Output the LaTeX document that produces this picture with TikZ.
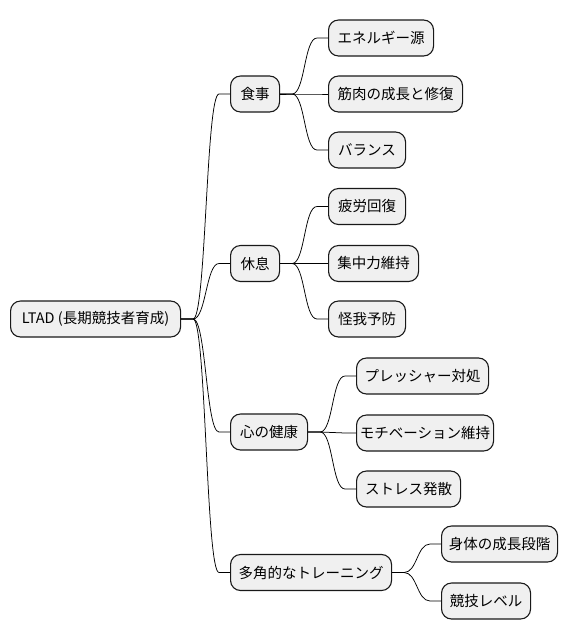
\documentclass[tikz,border=0pt]{standalone}
\usepackage{fontspec}
\setmainfont{Noto Sans CJK JP}
\usetikzlibrary{calc}
\begin{document}
\begin{tikzpicture}[x=1pt,y=-1pt,
  mm/.style={draw=black!90, line width=1.1pt, fill=black!6, rounded corners=10pt,
    minimum height=36pt, inner sep=0pt, anchor=west, font=\fontsize{14.5}{16}\selectfont},
  link/.style={draw=black, line width=0.75pt}]
\useasboundingbox (0,0) rectangle (569,640);
\newcommand{\mmnode}[5]{\node[mm, minimum width=#4pt] (#1) at (#2,#3) {#5};}
\mmnode{root}{10}{319}{170}{LTAD (長期競技者育成)}
\mmnode{a}{230}{94}{49}{食事}
\mmnode{b}{230}{263.5}{49}{休息}
\mmnode{c}{230}{432}{77}{心の健康}
\mmnode{d}{230}{572.5}{161}{多角的なトレーニング}
\mmnode{a1}{328}{38}{105}{エネルギー源}
\mmnode{a2}{328}{94}{134}{筋肉の成長と修復}
\mmnode{a3}{328}{150}{77}{バランス}
\mmnode{b1}{328}{206.5}{77}{疲労回復}
\mmnode{b2}{328}{263.5}{90}{集中力維持}
\mmnode{b3}{328}{319}{77}{怪我予防}
\mmnode{c1}{356}{376}{132}{プレッシャー対処}
\mmnode{c2}{356}{433}{137}{モチベーション維持}
\mmnode{c3}{356}{489}{104}{ストレス発散}
\mmnode{d1}{441}{544}{116}{身体の成長段階}
\mmnode{d2}{441}{601}{89}{競技レベル}
\newcommand{\lnk}[2]{\draw[link] (#1.east) -- ($(#1.east)+(12,0)$) .. controls +(13,0) and +(-13,0) .. ($(#2.west)+(-11,0)$) -- (#2.west);}
\lnk{root}{a}\lnk{root}{b}\lnk{root}{c}\lnk{root}{d}
\lnk{a}{a1}\lnk{a}{a2}\lnk{a}{a3}
\lnk{b}{b1}\lnk{b}{b2}\lnk{b}{b3}
\lnk{c}{c1}\lnk{c}{c2}\lnk{c}{c3}
\lnk{d}{d1}\lnk{d}{d2}
\end{tikzpicture}
\end{document}
